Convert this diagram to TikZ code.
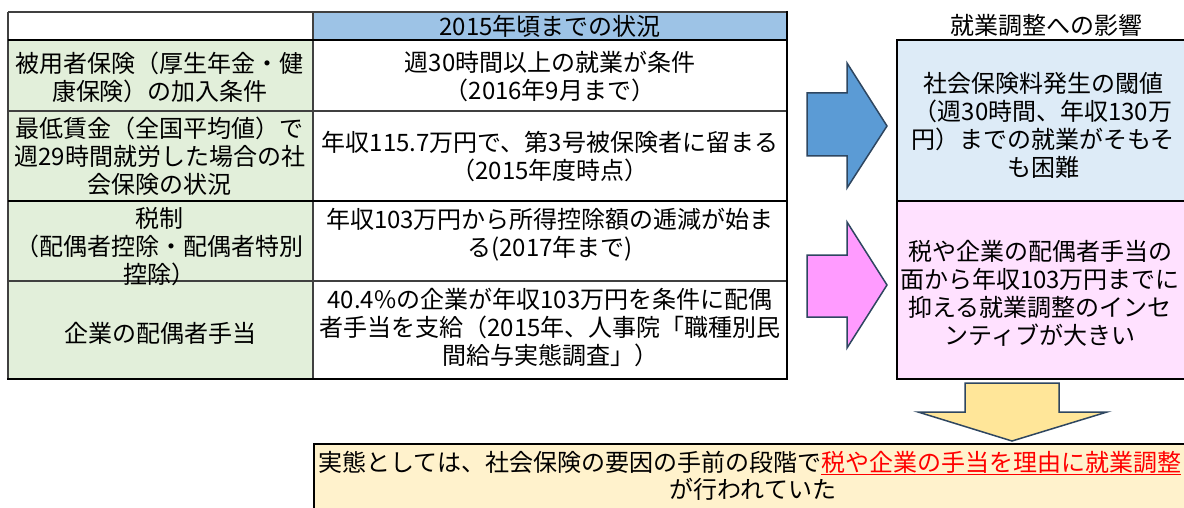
\documentclass[tikz,border=0pt]{standalone}
\usepackage{fontspec}
\setmainfont{Noto Sans CJK JP}
\definecolor{hdrblue}{HTML}{9DC3E6}
\definecolor{cellgreen}{HTML}{E2EFDA}
\definecolor{boxblue}{HTML}{DDEBF7}
\definecolor{boxpink}{HTML}{FFE1FF}
\definecolor{arrowblue}{HTML}{5B9BD5}
\definecolor{arrowpink}{HTML}{FF9BFF}
\definecolor{arrowyellow}{HTML}{FFE699}
\definecolor{arrowedge}{HTML}{2E4660}
\definecolor{boxyellow}{HTML}{FFF2CC}
\definecolor{gridgray}{HTML}{404040}
\newcommand\cellfont{\fontsize{24}{28}\selectfont}
\begin{document}
\begin{tikzpicture}[x=1pt,y=-1pt,line join=miter,
  cell/.style={font=\cellfont, align=center, inner sep=0pt, text=black},
  thinrule/.style={draw=gridgray, line width=1.5pt},
  thickrule/.style={draw=black, line width=2.5pt},
  blockarrow/.style={draw=arrowedge, line width=1.5pt}]
\useasboundingbox (0,0) rectangle (1184,508);
\clip (0,0) rectangle (1184,508);
\fill[white] (0,0) rectangle (1184,508);
% table backgrounds
\fill[hdrblue] (313,12) rectangle (787,40);
\fill[cellgreen] (8,40) rectangle (313,379);
% table rules
\draw[thinrule] (8,12) -- (787,12);
\draw[thinrule] (8,12) -- (8,379);
\draw[thinrule] (313,12) -- (313,379);
\draw[thinrule] (8,111) -- (787,111);
\draw[thinrule] (8,281) -- (787,281);
\draw[thickrule] (8,40) -- (787,40);
\draw[thickrule] (8,201) -- (787,201);
\draw[thickrule] (787,11) -- (787,380);
\draw[thickrule] (7,379) -- (788,379);
% table texts
\node[cell] (hdr) at (550,26) {2015年頃までの状況};
\node[cell] (l1) at (160,77) {被用者保険（厚生年金・健\\康保険）の加入条件};
\node[cell] (r1) at (550,77) {週30時間以上の就業が条件\\（2016年9月まで）};
\node[cell] (l2) at (160,156) {最低賃金（全国平均値）で\\週29時間就労した場合の社\\会保険の状況};
\node[cell] (r2) at (550,157) {年収115.7万円で、第3号被保険者に留まる\\（2015年度時点）};
\node[cell] (l3) at (160,247) {税制\\（配偶者控除・配偶者特別\\控除）};
\node[cell] (r3) at (550,235) {年収103万円から所得控除額の逓減が始ま\\る(2017年まで)};
\node[cell] (l4) at (160,333) {企業の配偶者手当};
\node[cell] (r4) at (550,327) {40.4\%の企業が年収103万円を条件に配偶\\者手当を支給（2015年、人事院「職種別民\\間給与実態調査」）};
% right boxes
\node[cell] (title) at (1046,25) {就業調整への影響};
\draw[thickrule, fill=boxblue] (897,40) rectangle (1200,201);
\draw[thickrule, fill=boxpink] (897,201) rectangle (1200,379);
\node[cell] (eff1) at (1043,125) {社会保険料発生の閾値\\（週30時間、年収130万\\円）までの就業がそもそ\\も困難};
\node[cell] (eff2) at (1040,293) {税や企業の配偶者手当の\\面から年収103万円までに\\抑える就業調整のインセ\\ンティブが大きい};
% block arrows
\draw[blockarrow, fill=arrowblue] (807,93) -- (847,93) -- (847,63) -- (887,126) -- (847,188) -- (847,156) -- (807,156) -- cycle;
\draw[blockarrow, fill=arrowpink] (807,255) -- (847,255) -- (847,222) -- (887,285) -- (847,348) -- (847,317) -- (807,317) -- cycle;
\draw[blockarrow, fill=arrowyellow] (965,383) -- (1059,383) -- (1059,412) -- (1107,412) -- (1012,441) -- (918,412) -- (965,412) -- cycle;
% bottom box
\draw[thickrule, fill=boxyellow] (314,444) rectangle (1220,530);
\node[cell, anchor=west] (b1) at (318,463) {実態としては、社会保険の要因の手前の段階で\textcolor{red}{\underline{税や企業の手当を理由に就業調整}}};
\node[cell] (b2) at (753,489) {が行われていた};
\end{tikzpicture}
\end{document}
